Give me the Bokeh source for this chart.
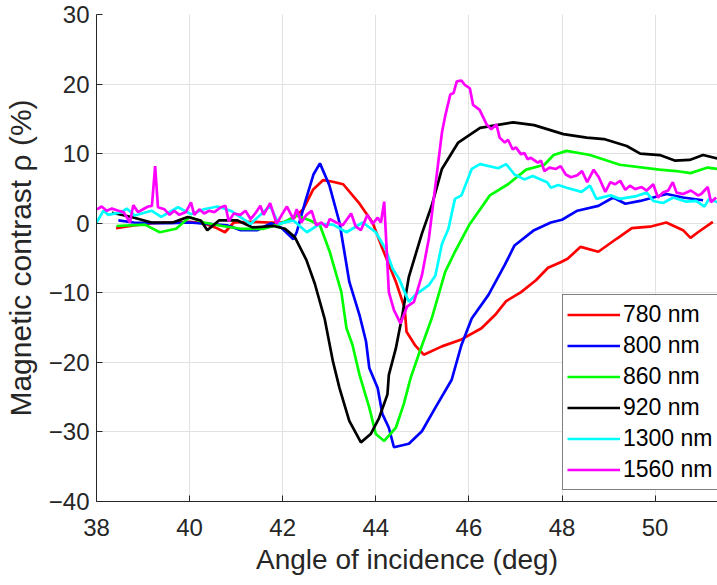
from bokeh.plotting import figure
from bokeh.models import Legend, LegendItem, FixedTicker, Range1d
from bokeh.embed import file_html
from bokeh.resources import INLINE

# ---------------- data ----------------
wavelength_labels = ["780 nm", "800 nm", "860 nm", "920 nm", "1300 nm", "1560 nm"]
series_colors = ["#ff0000", "#0000ff", "#00ff00", "#000000", "#00ffff", "#ff00ff"]

x_780 = [38.42, 38.8, 39.2, 39.6, 40.0, 40.3, 40.55, 40.76, 40.95, 41.3, 41.7, 42.0, 42.2,
         42.44, 42.65, 42.87, 43.05, 43.3, 43.65, 43.93, 44.14, 44.43, 44.62, 44.66, 44.85,
         45.03, 45.42, 45.84, 46.27, 46.56, 46.8, 47.12, 47.44, 47.7, 47.97, 48.12, 48.4,
         48.78, 49.18, 49.5, 49.89, 50.24, 50.6, 50.76, 50.92, 51.24]
y_780 = [-0.7, -0.3, 0.0, 0.1, 0.2, 0.0, -0.6, -1.3, 0.1, 0.2, 0.1, 0.1, 0.5,
         2.0, 4.8, 6.2, 6.0, 5.6, 2.8, 0.1, -3.6, -8.4, -12.2, -15.6, -17.6,
         -18.9, -17.7, -16.7, -15.1, -13.2, -11.2, -9.9, -8.2, -6.4, -5.6, -5.1, -3.4,
         -4.1, -2.2, -0.7, -0.5, 0.1, -1.0, -2.1, -1.3, 0.2]

x_800 = [38.47, 38.8, 39.2, 39.6, 40.0, 40.4, 40.8, 41.1, 41.45, 41.75, 41.96, 42.23, 42.3,
         42.48, 42.66, 42.8, 43.0, 43.22, 43.43, 43.65, 43.79, 43.86, 44.04, 44.14, 44.28,
         44.39, 44.71, 44.99, 45.28, 45.63, 45.84, 46.06, 46.42, 46.77, 46.98, 47.4, 47.76,
         48.0, 48.33, 48.78, 49.1, 49.36, 49.68, 49.96, 50.25, 50.6, 51.03]
y_800 = [0.4, 0.1, 0.0, 0.0, 0.1, -0.1, -0.3, -1.0, -1.0, 0.0, -0.6, -2.3, -1.3,
         3.0, 7.0, 8.6, 5.5, 0.1, -8.4, -13.2, -17.0, -20.8, -23.7, -27.4, -29.4,
         -32.2, -31.7, -29.9, -26.5, -22.5, -17.5, -13.7, -10.3, -6.0, -3.2, -1.0, 0.1,
         0.5, 1.8, 2.5, 3.7, 2.8, 3.2, 3.7, 4.2, 3.7, 3.3]

x_860 = [38.43, 39.04, 39.36, 39.71, 40.0, 40.31, 40.7, 41.1, 41.59, 41.95, 42.3, 42.59, 42.8,
         43.01, 43.26, 43.37, 43.5, 43.65, 43.86, 44.0, 44.18, 44.43, 44.6, 44.75, 44.92,
         45.2, 45.49, 45.7, 46.02, 46.45, 46.84, 47.23, 47.62, 47.82, 48.1, 48.6, 49.24,
         50.09, 50.45, 50.76, 51.13, 51.34]
y_860 = [-0.4, -0.2, -1.3, -0.8, 0.9, 0.1, -0.4, -0.8, -0.8, -0.1, 1.1, 0.4, -0.3,
         -4.1, -9.9, -15.1, -17.5, -21.8, -26.5, -30.3, -31.3, -29.4, -26.0, -22.2, -18.9,
         -13.7, -7.0, -4.1, -0.1, 4.0, 5.6, 7.7, 8.4, 9.8, 10.4, 9.8, 8.4,
         7.7, 7.5, 7.2, 8.0, 7.8]

x_920 = [38.33, 38.75, 39.18, 39.64, 39.96, 40.24, 40.38, 40.63, 41.03, 41.35, 41.8, 42.05,
         42.26, 42.51, 42.69, 42.9, 43.08, 43.22, 43.43, 43.68, 43.89, 44.07, 44.25, 44.28,
         44.43, 44.57, 44.71, 44.99, 45.2, 45.42, 45.77, 46.24, 46.95, 47.4, 48.03, 48.53,
         48.9, 49.39, 49.68, 50.1, 50.42, 50.74, 51.03, 51.34]
y_920 = [1.5, 0.9, 0.1, 0.1, 0.9, 0.4, -1.0, 0.4, 0.4, -0.6, -0.4, -0.8,
         -2.0, -5.3, -8.7, -13.7, -19.9, -23.7, -28.4, -31.5, -30.3, -28.0, -24.6, -21.8,
         -18.0, -13.2, -7.7, -1.5, 2.5, 7.8, 11.6, 13.7, 14.5, 14.1, 12.8, 12.3,
         12.1, 11.1, 10.0, 9.8, 9.0, 9.1, 9.8, 9.3]

x_1300 = [38.0, 38.15, 38.25, 38.54, 38.65, 38.82, 39.18, 39.39, 39.75, 40.03, 40.31, 40.6,
          40.88, 41.31, 41.73, 41.91, 42.23, 42.52, 42.8, 43.08, 43.37, 43.72, 44.0, 44.21,
          44.36, 44.5, 44.71, 44.85, 45.14, 45.28, 45.42, 45.56, 45.7, 45.84, 46.06, 46.24,
          46.63, 46.8, 46.98, 47.19, 47.37, 47.68, 47.76, 47.92, 48.1, 48.42, 48.6, 48.74,
          49.04, 49.24, 49.6, 49.82, 49.96, 50.17, 50.39, 50.67, 50.88, 51.06, 51.16, 51.34]
y_1300 = [0.1, 1.8, 1.2, 1.6, 2.1, 1.1, 1.8, 0.9, 2.3, 1.3, 2.0, 2.4,
          1.8, -0.1, 2.5, -0.1, 0.4, -1.3, -0.1, -0.2, -1.3, 0.1, -1.3, -3.7,
          -6.5, -8.0, -11.3, -10.3, -8.9, -7.5, -3.0, -0.8, 3.5, 4.0, 7.8, 8.5,
          7.9, 8.5, 7.0, 6.3, 6.8, 5.9, 5.1, 5.5, 5.1, 4.5, 5.4, 3.5,
          4.0, 3.5, 3.9, 4.4, 3.2, 2.9, 3.7, 3.1, 3.2, 2.4, 3.5, 3.0]

x_1560 = [38.01, 38.11, 38.22, 38.33, 38.47, 38.58, 38.72, 38.79, 38.89, 39.0, 39.11, 39.19,
          39.26, 39.32, 39.46, 39.57, 39.67, 39.78, 39.92, 40.03, 40.1, 40.21, 40.31, 40.42,
          40.53, 40.67, 40.77, 40.84, 40.95, 41.09, 41.2, 41.31, 41.41, 41.52, 41.59, 41.73,
          41.87, 41.98, 42.09, 42.23, 42.3, 42.4, 42.51, 42.62, 42.72, 42.83, 42.94, 43.01,
          43.15, 43.29, 43.47, 43.57, 43.68, 43.82, 43.93, 44.04, 44.11, 44.18, 44.28, 44.39,
          44.53, 44.67, 44.82, 44.99, 45.14, 45.28, 45.42, 45.49, 45.6, 45.67, 45.74, 45.84,
          45.91, 46.02, 46.09, 46.23, 46.38, 46.48, 46.59, 46.66, 46.77, 46.84, 46.94, 47.01,
          47.12, 47.19, 47.26, 47.33, 47.48, 47.55, 47.62, 47.73, 47.87, 47.97, 48.08, 48.19,
          48.33, 48.43, 48.54, 48.68, 48.79, 48.93, 49.04, 49.14, 49.25, 49.36, 49.46, 49.57,
          49.71, 49.82, 49.96, 50.06, 50.17, 50.28, 50.38, 50.46, 50.6, 50.77, 50.92, 50.99,
          51.13, 51.2, 51.31]
y_1560 = [2.0, 2.4, 1.8, 2.1, 1.8, 1.6, 0.1, 2.6, 1.6, 2.0, 2.4, 2.5,
          8.2, 2.3, 2.0, 1.2, 1.8, 1.2, 1.6, 3.0, 1.2, 2.0, 1.4, 1.8,
          1.6, 2.3, 2.5, 0.3, 1.4, 1.2, 1.8, 0.6, 1.4, 2.5, 1.2, 2.9,
          -0.1, 1.2, 2.4, 0.6, 2.0, 0.1, 1.2, 1.8, -0.3, 0.1, -0.6, 0.6,
          0.1, -0.3, 1.4, -0.5, -1.0, 1.2, -0.1, 0.8, 0.1, 3.1, -9.9, -12.5,
          -14.4, -12.0, -11.3, -7.5, -2.2, 5.4, 13.0, 15.4, 18.5, 18.7, 20.4, 20.5,
          19.9, 19.4, 17.0, 16.3, 14.2, 13.5, 14.2, 12.3, 11.6, 12.0, 10.6, 10.9,
          9.9, 10.1, 9.2, 9.4, 8.7, 9.0, 7.5, 8.0, 7.8, 8.2, 7.0, 6.6,
          6.9, 7.5, 5.9, 7.7, 6.6, 4.5, 5.9, 5.6, 6.1, 4.8, 5.4, 4.9,
          5.2, 4.7, 5.6, 3.7, 4.4, 4.7, 5.9, 4.4, 4.2, 4.7, 4.0, 4.2,
          5.2, 3.0, 3.7]

x_ticks = [38, 40, 42, 44, 46, 48, 50]
y_ticks = [-40, -30, -20, -10, 0, 10, 20, 30]

# ---------------- figure ----------------
FONT = "Liberation Sans"
TXT = "#262626"

p = figure(width=717, height=585, output_backend="svg", toolbar_location=None,
           x_range=Range1d(38, 51.34), y_range=Range1d(-40, 30),
           min_border_left=92, min_border_right=0, min_border_top=14, min_border_bottom=84)
p.outline_line_color = None
p.background_fill_color = "white"
p.border_fill_color = "white"

xs = [x_780, x_800, x_860, x_920, x_1300, x_1560]
ys = [y_780, y_800, y_860, y_920, y_1300, y_1560]
renderers = []
for xv, yv, c in zip(xs, ys, series_colors):
    r = p.line(xv, yv, line_color=c, line_width=2.7)
    renderers.append(r)

for ax in (p.xaxis[0], p.yaxis[0]):
    ax.axis_line_color = TXT
    ax.axis_line_width = 1
    ax.major_tick_line_color = TXT
    ax.major_tick_in = 6
    ax.major_tick_out = 0
    ax.minor_tick_line_color = None
    ax.major_label_text_font = FONT
    ax.major_label_text_font_size = "24px"
    ax.major_label_text_color = TXT
    ax.axis_label_text_font = FONT
    ax.axis_label_text_font_style = "normal"
    ax.axis_label_text_color = TXT

p.xaxis.ticker = FixedTicker(ticks=x_ticks)
p.yaxis.ticker = FixedTicker(ticks=y_ticks)
p.xaxis.axis_label = "Angle of incidence (deg)"
p.yaxis.axis_label = "Magnetic contrast ρ (%)"
p.xaxis.axis_label_text_font_size = "28px"
p.yaxis.axis_label_text_font_size = "30px"
p.xaxis.major_label_standoff = 17
p.xaxis.axis_label_standoff = 5
p.yaxis.major_label_standoff = 7
p.yaxis.axis_label_standoff = 9

p.xgrid.ticker = FixedTicker(ticks=x_ticks)
p.ygrid.ticker = FixedTicker(ticks=y_ticks)
p.grid.grid_line_color = "#e2e2e2"
p.grid.grid_line_width = 1

items = [LegendItem(label=lab, renderers=[r]) for lab, r in zip(wavelength_labels, renderers)]
legend = Legend(items=items, location=(466, 11), orientation="vertical",
                label_text_font=FONT, label_text_font_size="23px", label_text_color="#000000",
                label_height=31, glyph_height=31, glyph_width=53, label_standoff=3,
                label_width=100, padding=4, spacing=0, margin=0,
                border_line_color="#000000", border_line_width=1,
                background_fill_color="white", background_fill_alpha=1.0)
p.add_layout(legend, "center")

open("out.html", "w").write(file_html(p, INLINE))
